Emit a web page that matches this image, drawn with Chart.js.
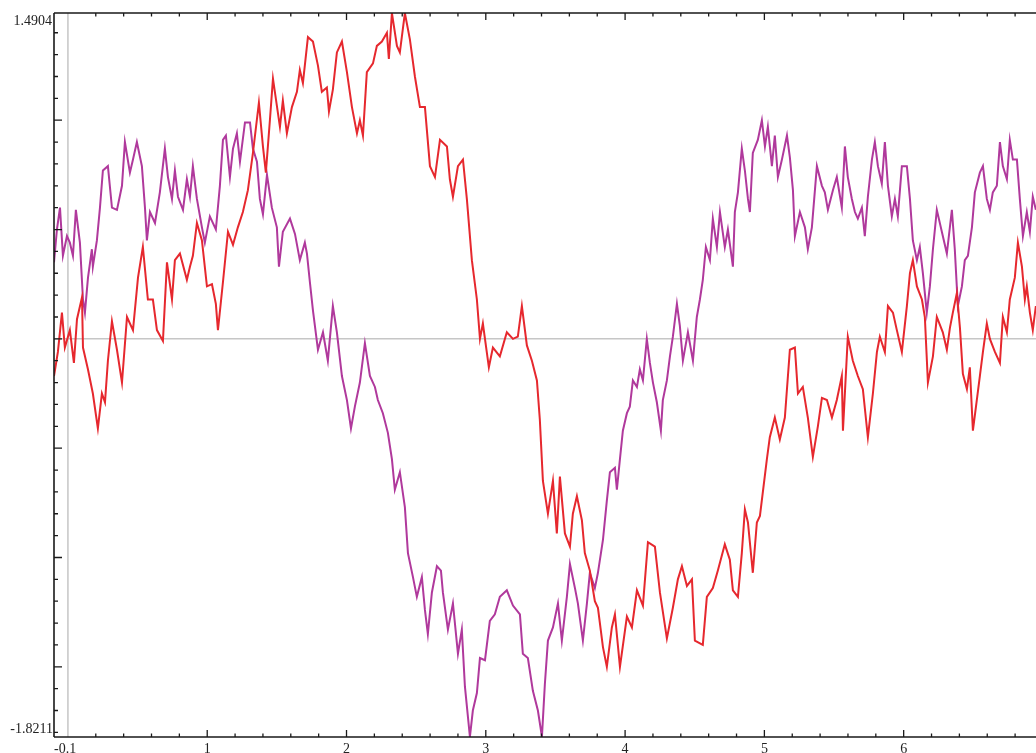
<!DOCTYPE html>
<html>
<head>
<meta charset="utf-8">
<script src="https://cdn.jsdelivr.net/npm/chart.js@4/dist/chart.umd.min.js"></script>
<style>
  html, body { margin: 0; padding: 0; background: #fff; }
  #wrap { width: 1036px; height: 753px; position: relative; }
</style>
</head>
<body>
<div id="wrap"><canvas id="plot"></canvas></div>
<script>
// axis range and labels
const xMin = -0.1, xMax = 6.95;
const yMin = -1.8211, yMax = 1.4904;
const xTickValues = [1, 2, 3, 4, 5, 6];
const xTickLabels = ['1', '2', '3', '4', '5', '6'];
const yMajorTicks = [-1.5, -1, -0.5, 0, 0.5, 1];
const yEndLabels = ['1.4904', '-1.8211'];

// red curve
const redX = [-0.1,-0.072,-0.043,-0.022,0.014,0.043,0.065,0.101,0.108,0.144,
  0.179,0.215,0.244,0.266,0.287,0.316,0.352,0.388,0.424,0.467,
  0.503,0.538,0.574,0.610,0.639,0.682,0.711,0.747,0.768,0.804,
  0.854,0.876,0.897,0.926,0.962,0.998,1.034,1.062,1.077,1.113,
  1.149,1.185,1.220,1.256,1.292,1.328,1.371,1.400,1.421,1.450,
  1.472,1.522,1.543,1.572,1.608,1.644,1.665,1.687,1.723,1.759,
  1.795,1.823,1.859,1.874,1.902,1.931,1.967,2.003,2.039,2.075,
  2.096,2.118,2.146,2.190,2.218,2.254,2.290,2.304,2.326,2.362,
  2.383,2.419,2.455,2.491,2.527,2.563,2.599,2.635,2.671,2.721,
  2.742,2.764,2.800,2.836,2.864,2.900,2.936,2.958,2.979,3.022,
  3.051,3.101,3.151,3.195,3.230,3.259,3.295,3.331,3.367,3.388,
  3.410,3.446,3.482,3.510,3.532,3.568,3.604,3.625,3.654,3.690,
  3.711,3.747,3.783,3.805,3.841,3.869,3.905,3.927,3.963,4.013,
  4.049,4.085,4.128,4.164,4.214,4.250,4.300,4.343,4.379,4.408,
  4.444,4.480,4.501,4.558,4.587,4.630,4.666,4.716,4.752,4.774,
  4.810,4.838,4.860,4.882,4.917,4.946,4.968,5.018,5.039,5.075,
  5.111,5.147,5.183,5.219,5.241,5.276,5.312,5.348,5.384,5.413,
  5.449,5.485,5.520,5.556,5.564,5.599,5.635,5.671,5.707,5.743,
  5.779,5.808,5.829,5.865,5.887,5.923,5.951,5.987,6.023,6.045,
  6.066,6.095,6.131,6.152,6.174,6.210,6.238,6.281,6.310,6.332,
  6.353,6.382,6.404,6.425,6.454,6.475,6.497,6.525,6.547,6.569,
  6.597,6.619,6.655,6.691,6.712,6.741,6.762,6.798,6.820,6.849,
  6.870,6.884,6.906,6.927,6.949];
const redY = [-0.17,-0.06,0.12,-0.04,0.04,-0.11,0.09,0.19,-0.04,-0.14,
  -0.25,-0.41,-0.25,-0.29,-0.10,0.08,-0.05,-0.20,0.10,0.04,
  0.28,0.42,0.18,0.18,0.04,-0.01,0.35,0.18,0.36,0.39,
  0.27,0.33,0.38,0.53,0.45,0.24,0.25,0.16,0.04,0.26,
  0.49,0.43,0.51,0.58,0.68,0.85,1.08,0.88,0.76,1.00,
  1.19,0.97,1.09,0.94,1.06,1.13,1.23,1.17,1.38,1.36,
  1.25,1.13,1.15,1.04,1.14,1.31,1.36,1.22,1.06,0.94,
  1.00,0.93,1.22,1.26,1.34,1.36,1.40,1.28,1.49,1.34,
  1.31,1.49,1.37,1.20,1.06,1.06,0.79,0.74,0.91,0.88,
  0.73,0.65,0.79,0.82,0.64,0.36,0.18,0.00,0.07,-0.13,
  -0.04,-0.08,0.03,0.00,0.01,0.15,-0.03,-0.10,-0.19,-0.37,
  -0.65,-0.80,-0.65,-0.89,-0.63,-0.89,-0.95,-0.80,-0.72,-0.83,
  -0.98,-1.06,-1.20,-1.23,-1.41,-1.50,-1.32,-1.26,-1.50,-1.27,
  -1.32,-1.15,-1.22,-0.93,-0.95,-1.16,-1.37,-1.23,-1.10,-1.04,
  -1.13,-1.10,-1.38,-1.40,-1.18,-1.14,-1.06,-0.94,-1.01,-1.15,
  -1.18,-0.98,-0.78,-0.84,-1.07,-0.84,-0.81,-0.55,-0.45,-0.36,
  -0.46,-0.36,-0.05,-0.04,-0.25,-0.22,-0.36,-0.54,-0.40,-0.27,
  -0.28,-0.36,-0.28,-0.17,-0.42,0.01,-0.10,-0.17,-0.23,-0.45,
  -0.25,-0.06,0.01,-0.06,0.15,0.12,0.04,-0.06,0.15,0.30,
  0.36,0.24,0.18,0.10,-0.20,-0.08,0.10,0.03,-0.05,0.05,
  0.12,0.21,0.05,-0.16,-0.23,-0.13,-0.42,-0.28,-0.17,-0.06,
  0.07,0.00,-0.06,-0.11,0.10,0.03,0.18,0.28,0.44,0.33,
  0.18,0.24,0.12,0.04,0.15];

// purple curve
const purpleX = [-0.1,-0.079,-0.057,-0.036,-0.007,0.014,0.036,0.057,0.086,0.108,
  0.122,0.144,0.172,0.179,0.208,0.230,0.251,0.287,0.316,0.352,
  0.388,0.409,0.445,0.467,0.495,0.531,0.553,0.567,0.589,0.625,
  0.660,0.696,0.718,0.747,0.768,0.790,0.826,0.854,0.876,0.897,
  0.926,0.962,0.983,1.019,1.062,1.091,1.113,1.134,1.163,1.185,
  1.213,1.235,1.271,1.307,1.328,1.357,1.378,1.400,1.429,1.464,
  1.500,1.515,1.543,1.594,1.630,1.665,1.701,1.716,1.737,1.759,
  1.795,1.831,1.866,1.902,1.931,1.967,2.003,2.032,2.060,2.096,
  2.132,2.168,2.204,2.225,2.261,2.297,2.326,2.347,2.383,2.419,
  2.441,2.477,2.505,2.541,2.563,2.584,2.613,2.649,2.678,2.692,
  2.728,2.764,2.800,2.828,2.850,2.886,2.907,2.936,2.958,2.994,
  3.029,3.065,3.101,3.151,3.195,3.245,3.266,3.302,3.338,3.374,
  3.403,3.424,3.446,3.482,3.518,3.546,3.582,3.604,3.640,3.661,
  3.697,3.726,3.747,3.783,3.805,3.841,3.869,3.891,3.927,3.941,
  3.963,3.984,4.013,4.034,4.056,4.085,4.106,4.128,4.156,4.178,
  4.200,4.228,4.257,4.271,4.300,4.322,4.343,4.372,4.393,4.415,
  4.451,4.487,4.515,4.537,4.558,4.580,4.609,4.630,4.659,4.681,
  4.716,4.738,4.774,4.788,4.810,4.838,4.860,4.882,4.896,4.917,
  4.953,4.982,5.004,5.025,5.054,5.075,5.097,5.126,5.162,5.183,
  5.205,5.219,5.255,5.291,5.312,5.341,5.377,5.413,5.434,5.456,
  5.492,5.520,5.556,5.578,5.599,5.628,5.650,5.671,5.700,5.721,
  5.743,5.772,5.793,5.815,5.843,5.865,5.887,5.915,5.937,5.958,
  5.987,6.023,6.045,6.066,6.095,6.116,6.138,6.166,6.188,6.210,
  6.238,6.274,6.310,6.346,6.367,6.389,6.418,6.439,6.461,6.490,
  6.511,6.547,6.569,6.597,6.619,6.640,6.669,6.691,6.712,6.741,
  6.762,6.784,6.813,6.834,6.856,6.884,6.906,6.927,6.949];
const purpleY = [0.35,0.50,0.60,0.38,0.47,0.44,0.38,0.59,0.44,0.18,
  0.12,0.28,0.41,0.33,0.45,0.60,0.77,0.79,0.60,0.59,
  0.70,0.90,0.76,0.82,0.90,0.79,0.60,0.45,0.58,0.53,
  0.67,0.87,0.74,0.64,0.77,0.65,0.59,0.73,0.65,0.79,
  0.64,0.51,0.44,0.56,0.50,0.70,0.91,0.93,0.74,0.87,
  0.94,0.81,0.99,0.99,0.87,0.81,0.64,0.57,0.75,0.60,
  0.51,0.33,0.49,0.55,0.48,0.36,0.44,0.39,0.26,0.13,
  -0.05,0.03,-0.10,0.15,0.03,-0.17,-0.28,-0.41,-0.31,-0.20,
  -0.02,-0.17,-0.22,-0.28,-0.34,-0.43,-0.55,-0.69,-0.61,-0.77,
  -0.98,-1.09,-1.18,-1.09,-1.24,-1.35,-1.16,-1.04,-1.06,-1.16,
  -1.33,-1.21,-1.44,-1.33,-1.59,-1.82,-1.70,-1.62,-1.46,-1.47,
  -1.29,-1.26,-1.18,-1.15,-1.22,-1.26,-1.44,-1.46,-1.61,-1.70,
  -1.82,-1.58,-1.38,-1.32,-1.21,-1.38,-1.18,-1.03,-1.14,-1.21,
  -1.38,-1.21,-1.07,-1.14,-1.07,-0.92,-0.74,-0.61,-0.59,-0.69,
  -0.55,-0.42,-0.34,-0.31,-0.19,-0.22,-0.14,-0.19,0.00,-0.11,
  -0.20,-0.29,-0.42,-0.28,-0.19,-0.08,0.01,0.16,0.06,-0.10,
  0.03,-0.10,0.10,0.18,0.27,0.42,0.36,0.55,0.42,0.58,
  0.42,0.50,0.33,0.58,0.67,0.87,0.77,0.64,0.58,0.85,
  0.91,1.00,0.88,0.97,0.79,0.93,0.74,0.82,0.93,0.83,
  0.68,0.47,0.58,0.51,0.41,0.51,0.79,0.70,0.67,0.59,
  0.68,0.74,0.60,0.88,0.74,0.64,0.58,0.55,0.60,0.47,
  0.65,0.82,0.90,0.79,0.71,0.90,0.70,0.56,0.64,0.56,
  0.79,0.79,0.64,0.45,0.36,0.42,0.30,0.12,0.24,0.41,
  0.59,0.49,0.39,0.59,0.41,0.15,0.24,0.36,0.38,0.51,
  0.67,0.76,0.79,0.64,0.59,0.67,0.70,0.90,0.79,0.73,
  0.91,0.82,0.82,0.64,0.47,0.58,0.49,0.65,0.59];

const toPoints = (xs, ys) => xs.map((x, i) => ({ x: x, y: ys[i] }));

// frame, ticks and zero lines, Mathematica style
const frame = {
  id: 'frame',
  beforeDatasetsDraw(chart) {
    const { ctx, chartArea: a, scales: { x, y } } = chart;
    ctx.save();
    ctx.strokeStyle = '#c6c6c6';
    ctx.lineWidth = 1.5;
    const x0 = x.getPixelForValue(0), y0 = y.getPixelForValue(0);
    ctx.beginPath();
    ctx.moveTo(x0, a.top); ctx.lineTo(x0, a.bottom);
    ctx.moveTo(a.left, y0); ctx.lineTo(a.right, y0);
    ctx.stroke();
    ctx.restore();
  },
  afterDraw(chart) {
    const { ctx, chartArea: a, scales: { x, y } } = chart;
    ctx.save();
    ctx.strokeStyle = '#1a1a1a';
    ctx.lineWidth = 1.6;
    ctx.beginPath();
    ctx.moveTo(a.left, a.top); ctx.lineTo(a.right, a.top);
    ctx.moveTo(a.left, a.top); ctx.lineTo(a.left, a.bottom);
    ctx.moveTo(a.left, a.bottom); ctx.lineTo(a.right, a.bottom);
    ctx.stroke();

    ctx.lineWidth = 1.3;
    ctx.beginPath();
    // x ticks, bottom and top
    for (let i = 1; i <= 34; i++) {
      const v = i * 0.2;
      if (v > xMax) break;
      const major = Math.abs(v - Math.round(v)) < 1e-6;
      const len = major ? 7 : 3.5;
      const px = x.getPixelForValue(v);
      ctx.moveTo(px, a.bottom); ctx.lineTo(px, a.bottom - len);
      ctx.moveTo(px, a.top); ctx.lineTo(px, a.top + len);
    }
    // y ticks on the left
    for (let i = -18; i <= 14; i++) {
      const v = i / 10;
      const major = yMajorTicks.some(m => Math.abs(m - v) < 1e-6);
      const len = major ? 8 : 4;
      const py = y.getPixelForValue(v);
      ctx.moveTo(a.left, py); ctx.lineTo(a.left + len, py);
    }
    ctx.stroke();

    ctx.fillStyle = '#222';
    ctx.font = '14px "Liberation Serif", "DejaVu Serif", serif';
    ctx.textAlign = 'right';
    ctx.textBaseline = 'top';
    ctx.fillText(yEndLabels[0], a.left - 2, a.top + 1);
    ctx.textBaseline = 'bottom';
    ctx.fillText(yEndLabels[1], a.left - 1, a.bottom - 1);

    ctx.textBaseline = 'alphabetic';
    ctx.textAlign = 'left';
    ctx.fillText(String(xMin), a.left, a.bottom + 16);
    ctx.textAlign = 'center';
    xTickValues.forEach((v, i) => {
      ctx.fillText(xTickLabels[i], x.getPixelForValue(v), a.bottom + 16);
    });
    ctx.restore();
  }
};

new Chart(document.getElementById('plot'), {
  type: 'scatter',
  data: {
    datasets: [
      {
        label: 'red',
        data: toPoints(redX, redY),
        showLine: true,
        borderColor: '#e6282e',
        borderWidth: 2,
        pointRadius: 0,
        tension: 0
      },
      {
        label: 'purple',
        data: toPoints(purpleX, purpleY),
        showLine: true,
        borderColor: '#b0399c',
        borderWidth: 2,
        pointRadius: 0,
        tension: 0
      }
    ]
  },
  options: {
    responsive: true,
    maintainAspectRatio: false,
    animation: false,
    layout: { padding: { left: 54, top: 13, right: 0, bottom: 16 } },
    plugins: {
      legend: { display: false },
      tooltip: { enabled: false }
    },
    scales: {
      x: { type: 'linear', min: xMin, max: xMax, display: false },
      y: { type: 'linear', min: yMin, max: yMax, display: false }
    }
  },
  plugins: [frame]
});
</script>
</body>
</html>
